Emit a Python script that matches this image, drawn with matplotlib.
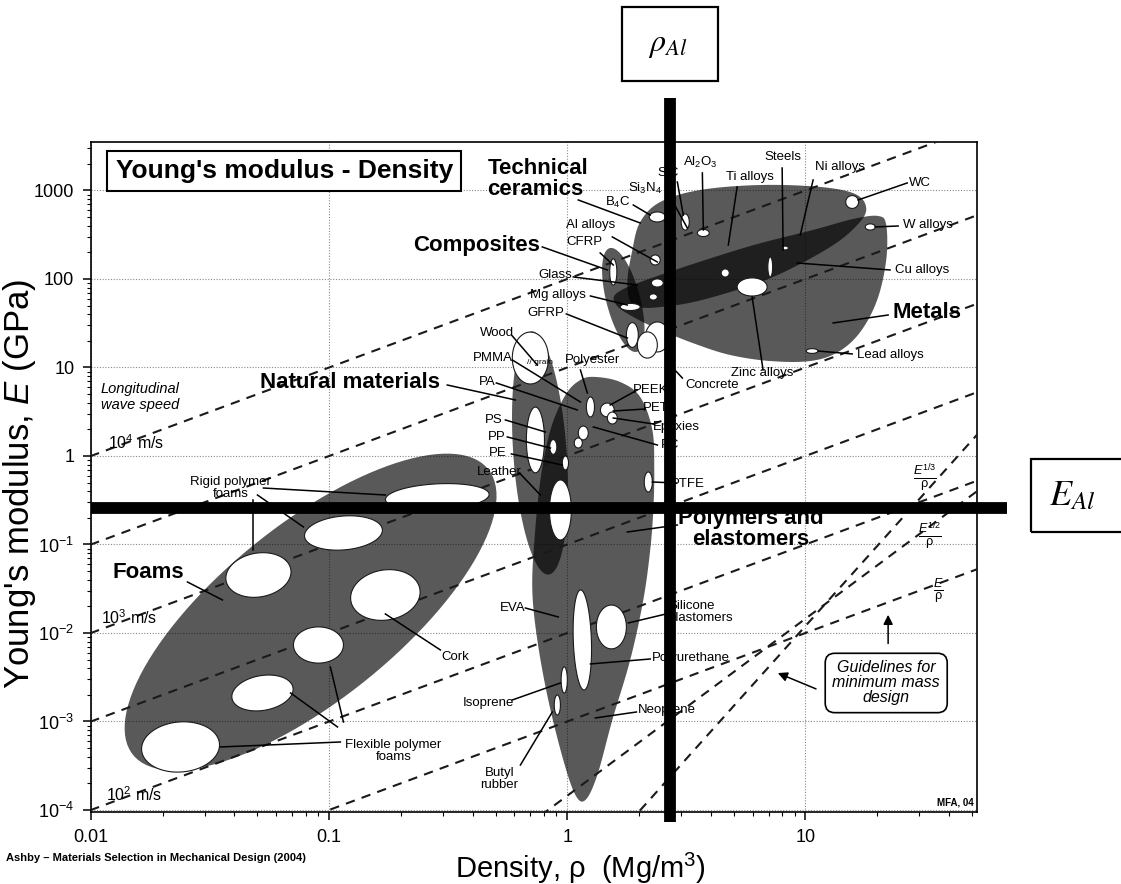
import numpy as np
import matplotlib.pyplot as plt
from matplotlib.patches import Polygon, Rectangle
from matplotlib.ticker import FixedLocator, LogLocator, NullFormatter

plt.rcParams['font.family'] = ['Liberation Sans', 'DejaVu Sans']
plt.rcParams['mathtext.fontset'] = 'custom'
plt.rcParams['mathtext.rm'] = 'Liberation Sans'
plt.rcParams['mathtext.it'] = 'Liberation Sans:italic'
plt.rcParams['mathtext.bf'] = 'Liberation Sans:bold'

# --- chart data (all positions as log10 of density in Mg/m3 and modulus in GPa) ---
RHO_AL = 2.7
E_AL = 0.258

WAVE_SPEED_RATIOS = [100, 10, 1, 0.1, 0.01, 0.001]   # lines of constant E/rho
GUIDE_SQRT_C = 1.45e-4   # E^(1/2)/rho guideline: E = C * rho^2
GUIDE_CBRT_C = 1.2e-5    # E^(1/3)/rho guideline: E = C * rho^3

# family envelopes drawn as ellipses (centre, semi axes in decades, tilt on screen)
ELL_NAME = ['Foams', 'Natural', 'Composites']
ELL_LRHO = [-1.078, -0.115, 0.235]
ELL_LE = [-1.763, 0.034, 1.763]
ELL_A = [0.957, 0.512, 0.225]
ELL_B = [0.369, 0.112, 0.071]
ELL_ANG = [38.8, 94.0, 104.6]

# family envelopes traced as outlines
POLY_LRHO = [0.118, 0.222, 0.306, 0.357, 0.365, 0.361, 0.348, 0.319, 0.264, 0.189, 0.126,
             0.076, 0.034, -0.017, -0.080, -0.126, -0.147, -0.138, -0.113, -0.071, -0.008, 0.055]
POLY_LE = [0.893, 0.836, 0.667, 0.294, -0.158, -0.610, -1.062, -1.627, -2.305, -2.983, -3.605,
           -3.887, -3.831, -3.435, -2.757, -2.079, -1.514, -0.949, -0.271, 0.294, 0.689, 0.859]

CERAM_LRHO = [0.273, 0.306, 0.390, 0.558, 0.810, 1.062, 1.209, 1.255, 1.221, 1.104, 0.864,
              0.613, 0.432, 0.285, 0.252]
CERAM_LE = [2.328, 2.644, 2.870, 3.006, 3.062, 3.040, 2.960, 2.802, 2.621, 2.362, 2.023,
            1.797, 1.695, 1.695, 1.932]

METAL_LRHO = [0.214, 0.390, 0.755, 1.032, 1.200, 1.305, 1.339, 1.339, 1.301, 1.230, 1.137,
              1.020, 0.852, 0.684, 0.537, 0.390, 0.285, 0.206]
METAL_LE = [1.853, 2.045, 2.362, 2.554, 2.678, 2.712, 2.610, 2.215, 1.763, 1.401, 1.175,
            1.073, 1.073, 1.141, 1.266, 1.424, 1.559, 1.706]

# white material bubbles
BUB_LRHO = [-1.624, -1.280, -1.045, -0.764, -1.297, -0.940, -0.546,
            0.378, 0.495, 0.571, 0.369, 0.663, 0.776, 0.852, 0.915, 1.196, 1.272, 1.028,
            0.193, 0.264, 0.273, 0.378, 0.361, 0.378, 0.336,
            -0.155, -0.134, -0.059, -0.008, -0.029, 0.340, 0.097, 0.168, 0.067, 0.046, 0.189,
            0.063, 0.185, -0.013, -0.042]
BUB_LE = [-3.288, -2.678, -2.136, -1.571, -1.345, -0.870, -0.463,
          2.701, 2.644, 2.520, 2.215, 2.068, 1.910, 2.136, 2.350, 2.870, 2.588, 1.186,
          2.079, 1.684, 1.367, 1.955, 1.797, 1.345, 1.254,
          1.107, 0.181, 0.102, -0.079, -0.610, -0.294, 0.554, 0.520, 0.260, 0.147, 0.429,
          -2.079, -1.932, -2.531, -2.814]
BUB_A = [0.164, 0.130, 0.105, 0.147, 0.138, 0.164, 0.218,
         0.034, 0.034, 0.025, 0.021, 0.017, 0.063, 0.042, 0.013, 0.027, 0.021, 0.025,
         0.055, 0.042, 0.052, 0.025, 0.017, 0.063, 0.055,
         0.109, 0.138, 0.031, 0.029, 0.126, 0.042, 0.042, 0.029, 0.029, 0.021, 0.025,
         0.210, 0.092, 0.055, 0.042]
BUB_B = [0.105, 0.073, 0.076, 0.105, 0.092, 0.071, 0.055,
         0.021, 0.017, 0.015, 0.021, 0.017, 0.038, 0.010, 0.008, 0.027, 0.013, 0.010,
         0.015, 0.015, 0.025, 0.017, 0.013, 0.050, 0.042,
         0.076, 0.038, 0.015, 0.013, 0.046, 0.017, 0.017, 0.029, 0.021, 0.017, 0.021,
         0.038, 0.063, 0.013, 0.013]
BUB_ANG = [5, 10, 0, 10, 10, 5, 3,
           0, 90, 0, 0, 0, 0, 90, 0, 0, 0, 0,
           90, 0, 90, 0, 0, 90, 90,
           90, 90, 90, 90, 90, 90, 90, 0, 90, 90, 90,
           92, 90, 90, 90]

# family names (bold)
FAM_TEXT = ['Technical\nceramics', 'Composites', 'Natural materials', 'Metals',
            'Polymers and\nelastomers', 'Foams']
FAM_LRHO = [-0.336, -0.113, -0.911, 1.364, 0.772, -1.758]
FAM_LE = [3.130, 2.384, 0.825, 1.627, -0.825, -1.322]
FAM_HA = ['left', 'right', 'center', 'left', 'center', 'center']

# material names
MAT_TEXT = ['SiC', 'Al$_2$O$_3$', 'Steels', 'Ni alloys', 'Ti alloys', 'Si$_3$N$_4$', 'B$_4$C',
            'WC', 'W alloys', 'Cu alloys', 'Lead alloys', 'Al alloys', 'CFRP', 'Glass',
            'Mg alloys', 'GFRP', 'Wood', 'PMMA', 'Polyester', 'PA', 'PEEK', 'PET',
            'Epoxies', 'PC', 'PS', 'PP', 'PE', 'Leather', 'PTFE', 'Concrete',
            'Zinc alloys', 'EVA', 'Silicone\nelastomers', 'Polyurethane', 'Isoprene',
            'Neoprene', 'Butyl\nrubber', 'Cork', 'Rigid polymer\nfoams',
            'Flexible polymer\nfoams']
MAT_LRHO = [0.424, 0.558, 0.906, 1.146, 0.768, 0.327, 0.210,
            1.481, 1.515, 1.490, 1.355, 0.097, 0.071, -0.050,
            -0.038, -0.092, -0.294, -0.311, 0.105, -0.336, 0.348, 0.373,
            0.457, 0.432, -0.311, -0.298, -0.294, -0.285, 0.508, 0.608,
            0.818, -0.231, 0.424, 0.357, -0.332,
            0.298, -0.285, -0.470, -1.414,
            -0.730]
MAT_LE = [3.198, 3.322, 3.379, 3.260, 3.153, 3.028, 2.870,
          3.085, 2.610, 2.102, 1.141, 2.610, 2.418, 2.045,
          1.819, 1.616, 1.390, 1.107, 1.085, 0.836, 0.746, 0.542,
          0.328, 0.124, 0.407, 0.215, 0.034, -0.181, -0.316, 0.802,
          0.938, -1.718, -1.763, -2.283, -2.791,
          -2.870, -3.650, -2.271, -0.362,
          -3.333]
MAT_HA = ['center'] * 32 + ['left', 'left', 'center', 'left', 'center', 'center', 'center', 'center']

# leader lines: from label to material
LEAD_FROM_LRHO = [0.046, -0.105, -0.504, 1.347, 0.462, -1.595, 0.462, 0.567, 0.902, 1.032,
                  0.713, 0.420, 0.277, 1.427, 1.389, 1.355, 1.196, 0.189, 0.138, 0.025,
                  0.097, -0.004, -0.231, -0.231, 0.055, -0.298, 0.294, 0.327, 0.361, 0.378,
                  -0.260, -0.252, -0.235, -0.201, 0.457, 0.483, 0.822, -0.176, 0.415, 0.348,
                  -0.231, 0.290, -0.197, -0.533, -1.276, -1.301, -1.318, -0.953, -0.965, -0.940]
LEAD_FROM_LE = [2.893, 2.362, 0.802, 1.593, -0.780, -1.424, 3.096, 3.198, 3.254, 3.119,
                3.040, 2.983, 2.836, 3.085, 2.599, 2.102, 1.153, 2.475, 2.294, 2.023,
                1.808, 1.605, 1.356, 1.085, 0.972, 0.825, 0.746, 0.531, 0.362, 0.124,
                0.407, 0.215, 0.023, -0.192, -0.305, 0.881, 0.972, -1.718, -1.785, -2.294,
                -2.757, -2.893, -3.492, -2.192, -0.362, -0.441, -0.497, -3.232, -3.062, -3.006]
LEAD_TO_LRHO = [0.306, 0.168, -0.218, 1.116, 0.252, -1.448, 0.487, 0.571, 0.906, 0.978,
                0.676, 0.504, 0.348, 1.221, 1.293, 0.965, 1.053, 0.378, 0.193, 0.294,
                0.252, 0.252, -0.126, 0.055, 0.084, 0.042, 0.180, 0.193, 0.193, 0.109,
                -0.092, -0.071, -0.021, -0.113, 0.357, 0.420, 0.776, -0.038, 0.256, 0.097,
                -0.029, 0.118, -0.063, -0.764, -0.764, -1.108, -1.318, -1.456, -1.162, -0.995]
LEAD_TO_LE = [2.633, 2.102, 0.633, 1.503, -0.859, -1.627, 2.723, 2.554, 2.328, 2.497,
              2.384, 2.576, 2.723, 2.893, 2.588, 2.181, 1.186, 2.192, 2.158, 1.932,
              1.706, 1.333, 1.028, 0.610, 0.712, 0.520, 0.576, 0.508, 0.429, 0.328,
              0.271, 0.090, -0.102, -0.441, -0.294, 1.062, 1.797, -1.819, -1.887, -2.350,
              -2.565, -2.960, -2.893, -1.785, -0.441, -0.802, -1.062, -3.288, -2.678, -2.384]

SPEED_TEXT = ['10$^4$ m/s', '10$^3$ m/s', '10$^2$ m/s']
SPEED_LRHO = [-1.930, -1.960, -1.939]
SPEED_LE = [0.147, -1.831, -3.831]

GUIDE_TEXT = [r'$\frac{E^{1/3}}{\mathrm{\rho}}$', r'$\frac{E^{1/2}}{\mathrm{\rho}}$',
              r'$\frac{E}{\mathrm{\rho}}$']
GUIDE_LRHO = [1.502, 1.523, 1.557]
GUIDE_LE = [-0.249, -0.904, -1.525]

XTICKS = [0.01, 0.1, 1, 10]
XTICK_LABELS = ['0.01', '0.1', '1', '10']
YTICKS = [1e-4, 1e-3, 1e-2, 1e-1, 1, 10, 100, 1000]
YTICK_LABELS = ['10$^{-4}$', '10$^{-3}$', '10$^{-2}$', '10$^{-1}$', '1', '10', '100', '1000']

# --- figure ---
fig = plt.figure(figsize=(11.21, 8.84), dpi=100)
ax = fig.add_axes([91 / 1121, 72 / 884, 886 / 1121, 670 / 884])
ax.set_xscale('log')
ax.set_yscale('log')
ax.set_xlim(0.01, 52.5)
ax.set_ylim(10 ** -4.023, 10 ** 3.548)

# decades -> screen: needed to draw ellipses that look right on screen
pos = ax.get_position()
px_x = pos.width * fig.get_figwidth() / np.log10(52.5 / 0.01)
px_y = pos.height * fig.get_figheight() / (3.548 + 4.023)
R = px_x / px_y


def ellipse_pts(lr, le, a, b, ang, n=120):
    t = np.linspace(0, 2 * np.pi, n)
    th = np.radians(ang)
    u = lr + a * np.cos(th) * np.cos(t) - b * np.sin(th) * np.sin(t)
    v = le / R + a * np.sin(th) * np.cos(t) + b * np.cos(th) * np.sin(t)
    return np.column_stack([10 ** u, 10 ** (v * R)])


def smooth_closed(lr, le, n=16):
    P = np.column_stack([lr, np.asarray(le) / R])
    m = len(P)
    t = np.linspace(0, 1, n, endpoint=False)[:, None]
    out = []
    for i in range(m):
        p0, p1, p2, p3 = P[i - 1], P[i], P[(i + 1) % m], P[(i + 2) % m]
        out.append(0.5 * (2 * p1 + (-p0 + p2) * t + (2 * p0 - 5 * p1 + 4 * p2 - p3) * t ** 2
                          + (-p0 + 3 * p1 - 3 * p2 + p3) * t ** 3))
    out = np.vstack(out)
    return np.column_stack([10 ** out[:, 0], 10 ** (out[:, 1] * R)])


# grid
ax.grid(True, which='major', linestyle=(0, (1, 1.5)), color='#8a8a8a', lw=0.8, zorder=0.5)

# envelopes (overlaps come out darker, like the original)
env_kw = dict(facecolor='black', edgecolor='none', alpha=0.65, zorder=2)
for i in range(len(ELL_NAME)):
    ax.add_patch(Polygon(ellipse_pts(ELL_LRHO[i], ELL_LE[i], ELL_A[i], ELL_B[i], ELL_ANG[i]), **env_kw))
for lr, le in [(POLY_LRHO, POLY_LE), (CERAM_LRHO, CERAM_LE), (METAL_LRHO, METAL_LE)]:
    ax.add_patch(Polygon(smooth_closed(lr, le), **env_kw))

# guide lines
rho = np.logspace(-2.2, 2, 300)
dash = (0, (4.5, 3.5))
for k in WAVE_SPEED_RATIOS:
    ax.plot(rho, k * rho, color='#1a1a1a', lw=1.5, ls=dash, zorder=3)
ax.plot(rho, GUIDE_SQRT_C * rho ** 2, color='#1a1a1a', lw=1.5, ls=dash, zorder=3)
ax.plot(rho, GUIDE_CBRT_C * rho ** 3, color='#1a1a1a', lw=1.5, ls=dash, zorder=3)

# material bubbles
for i in range(len(BUB_LRHO)):
    ax.add_patch(Polygon(ellipse_pts(BUB_LRHO[i], BUB_LE[i], BUB_A[i], BUB_B[i], BUB_ANG[i]),
                         facecolor='white', edgecolor='#1a1a1a', lw=0.8, zorder=4))

# leaders
for i in range(len(LEAD_FROM_LRHO)):
    ax.plot([10 ** LEAD_FROM_LRHO[i], 10 ** LEAD_TO_LRHO[i]],
            [10 ** LEAD_FROM_LE[i], 10 ** LEAD_TO_LE[i]], color='black', lw=1.1, zorder=5)

# labels
for i, txt in enumerate(FAM_TEXT):
    ax.text(10 ** FAM_LRHO[i], 10 ** FAM_LE[i], txt, fontsize=16, fontweight='bold',
            ha=FAM_HA[i], va='center', linespacing=0.95, zorder=6)
for i, txt in enumerate(MAT_TEXT):
    ax.text(10 ** MAT_LRHO[i], 10 ** MAT_LE[i], txt, fontsize=9.5, ha=MAT_HA[i],
            va='center', linespacing=1.0, zorder=6)
ax.text(10 ** -0.113, 10 ** 1.062, '// grain', fontsize=6, ha='center', va='center', zorder=6)
ax.text(10 ** -1.960, 10 ** 0.667, 'Longitudinal\nwave speed', fontsize=10.5, style='italic',
        ha='left', va='center', zorder=6)
for i, txt in enumerate(SPEED_TEXT):
    ax.text(10 ** SPEED_LRHO[i], 10 ** SPEED_LE[i], txt, fontsize=11.5, ha='left', va='center', zorder=6)
for i, txt in enumerate(GUIDE_TEXT):
    ax.text(10 ** GUIDE_LRHO[i], 10 ** GUIDE_LE[i], txt, fontsize=13, ha='center', va='center', zorder=6)

ax.text(10 ** 1.339, 10 ** -2.565, 'Guidelines for\nminimum mass\ndesign', fontsize=11.5,
        style='italic', ha='center', va='center', linespacing=1.0, zorder=6,
        bbox=dict(boxstyle='round,pad=0.45,rounding_size=0.6', fc='white', ec='black', lw=1.2))
arrow = dict(arrowstyle='-|>', color='black', lw=1.1, mutation_scale=14)
ax.annotate('', xy=(10 ** 1.347, 10 ** -1.763), xytext=(10 ** 1.347, 10 ** -2.15),
            arrowprops=arrow, zorder=6)
ax.annotate('', xy=(10 ** 0.873, 10 ** -2.441), xytext=(10 ** 1.055, 10 ** -2.644),
            arrowprops=arrow, zorder=6)
ax.text(10 ** 1.628, 10 ** -3.910, 'MFA, 04', fontsize=7, fontweight='bold', ha='center',
        va='center', zorder=6)

ax.text(10 ** -1.897, 10 ** 3.220, "Young's modulus - Density", fontsize=19, fontweight='bold',
        ha='left', va='center', zorder=7,
        bbox=dict(boxstyle='square,pad=0.32', fc='white', ec='black', lw=1.5))

# aluminium reference bars
ax.plot([RHO_AL, RHO_AL], [-0.015, 1.066], transform=ax.get_xaxis_transform(),
        color='black', lw=8.5, solid_capstyle='butt', clip_on=False, zorder=8)
ax.plot([0, 1.034], [E_AL, E_AL], transform=ax.get_yaxis_transform(),
        color='black', lw=8.5, solid_capstyle='butt', clip_on=False, zorder=8)

# axes, ticks
ax.xaxis.set_major_locator(FixedLocator(XTICKS))
ax.set_xticklabels(XTICK_LABELS)
ax.yaxis.set_major_locator(FixedLocator(YTICKS))
ax.set_yticklabels(YTICK_LABELS)
ax.xaxis.set_minor_locator(LogLocator(base=10, subs=np.arange(2, 10), numticks=100))
ax.yaxis.set_minor_locator(LogLocator(base=10, subs=np.arange(2, 10), numticks=100))
ax.xaxis.set_minor_formatter(NullFormatter())
ax.yaxis.set_minor_formatter(NullFormatter())
ax.tick_params(which='major', direction='out', length=6, width=1.1, labelsize=13, pad=6)
ax.tick_params(which='minor', direction='out', length=3, width=0.8)
for s in ax.spines.values():
    s.set_linewidth(1.2)

ax.set_xlabel(r'Density, $\mathrm{\rho}$  (Mg/m$^3$)', fontsize=21)
ax.xaxis.set_label_coords(0.553, -0.058)
ax.set_ylabel(r"Young's modulus, $E$ (GPa)", fontsize=25)
ax.yaxis.set_label_coords(-0.060, 0.49)

# reference boxes for aluminium
fig.add_artist(Rectangle((622 / 1121, 1 - 81 / 884), 96 / 1121, 74 / 884, transform=fig.transFigure,
                         fill=False, ec='black', lw=1.6))
fig.text(0.5959, 0.949, r'$\rho_{Al}$', math_fontfamily='stix', fontsize=23, ha='center', va='center')
fig.add_artist(Rectangle((1031 / 1121, 1 - 532 / 884), 0.09, 73 / 884, transform=fig.transFigure,
                         fill=False, ec='black', lw=1.6))
fig.text(0.9563, 0.4389, r'$E_{Al}$', math_fontfamily='stix', fontsize=26, ha='center', va='center')

fig.text(0.005, 0.029, 'Ashby \u2013 Materials Selection in Mechanical Design (2004)',
         fontsize=8, fontweight='bold', ha='left', va='center')

fig.savefig('out.png', dpi=100)
